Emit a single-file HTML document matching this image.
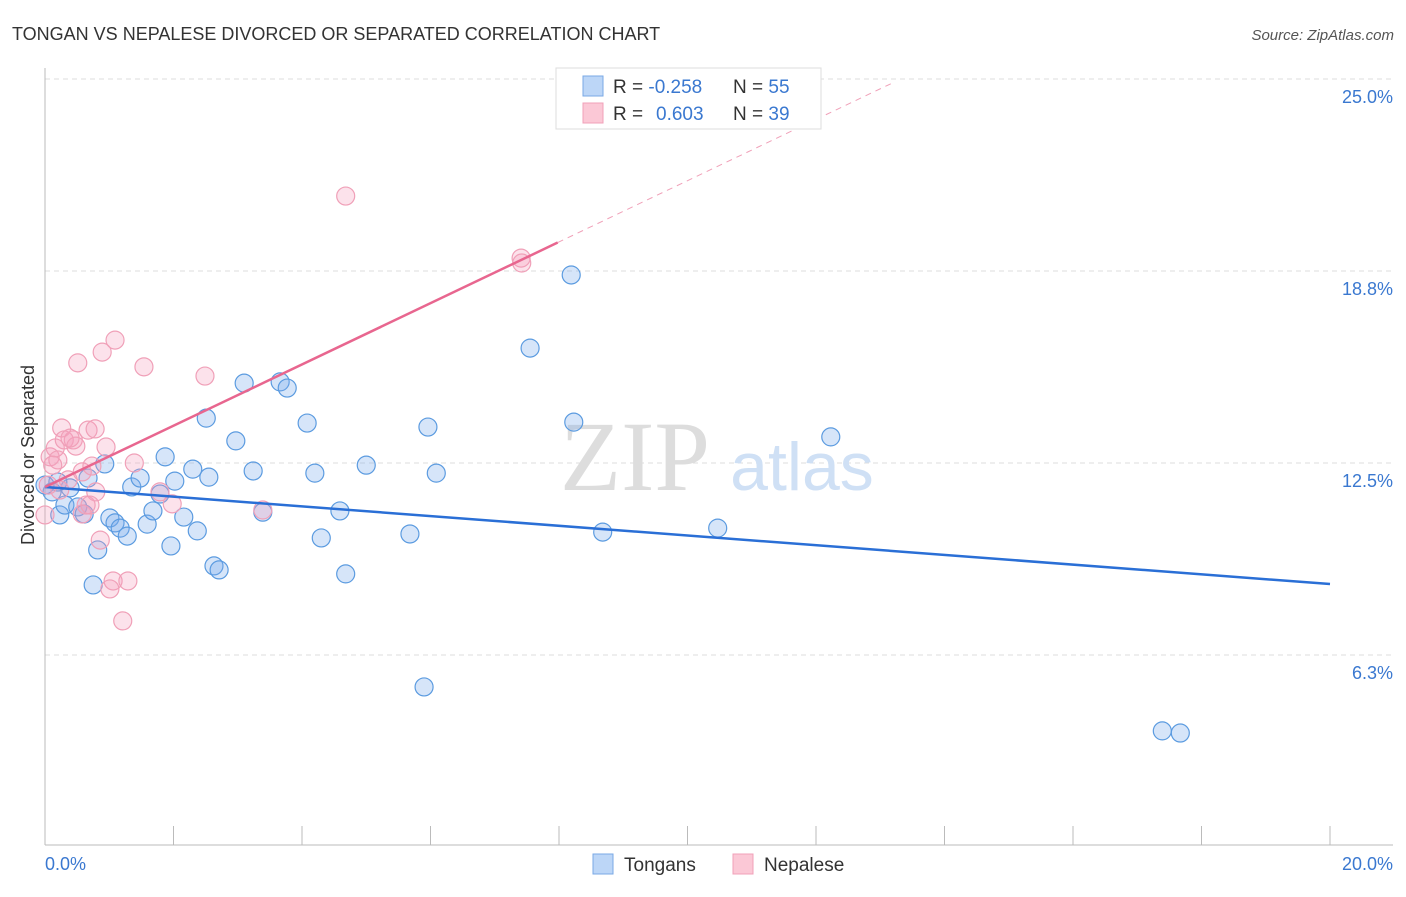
<!DOCTYPE html>
<html><head><meta charset="utf-8"><style>
body{margin:0;background:#fff;font-family:"Liberation Sans",sans-serif;}
</style></head><body>
<svg width="1406" height="892" xmlns="http://www.w3.org/2000/svg" font-family="Liberation Sans, sans-serif">
<text x="12" y="40" font-size="18" fill="#333">TONGAN VS NEPALESE DIVORCED OR SEPARATED CORRELATION CHART</text>
<text x="1394" y="40" font-size="15" fill="#555" font-style="italic" text-anchor="end">Source: ZipAtlas.com</text>
<g id="grid"></g>
<text x="635" y="490" font-size="100" font-family="Liberation Serif, serif" fill="#ddd" text-anchor="middle">ZIP</text>
<text x="802" y="490" font-size="68" fill="#cfe0f5" text-anchor="middle">atlas</text>
<g id="pts"></g>
<g id="lines"></g>
<text transform="translate(34,455) rotate(-90)" font-size="18" fill="#333" text-anchor="middle">Divorced or Separated</text>
<text x="45" y="870" font-size="18" fill="#3a78d0">0.0%</text>
<text x="1393" y="870" font-size="18" fill="#3a78d0" text-anchor="end">20.0%</text>
<g>
<rect x="556" y="68" width="265" height="61" fill="#fff" stroke="#ddd"/>
<rect x="583" y="76" width="20" height="20" fill="#bcd6f7" stroke="#7aa8e6"/>
<rect x="583" y="103" width="20" height="20" fill="#fbc8d6" stroke="#f0a0b8"/>
<text x="613" y="93" font-size="19" fill="#333">R = <tspan fill="#3a78d0">-0.258</tspan></text>
<text x="733" y="93" font-size="19" fill="#333">N = <tspan fill="#3a78d0">55</tspan></text>
<text x="613" y="120" font-size="19" fill="#333">R = <tspan fill="#3a78d0" x="656">0.603</tspan></text>
<text x="733" y="120" font-size="19" fill="#333">N = <tspan fill="#3a78d0">39</tspan></text>
</g>
<g>
<rect x="593" y="854" width="20" height="20" fill="#bcd6f7" stroke="#7aa8e6"/>
<text x="624" y="871" font-size="19" fill="#333">Tongans</text>
<rect x="733" y="854" width="20" height="20" fill="#fbc8d6" stroke="#f0a0b8"/>
<text x="764" y="871" font-size="19" fill="#333">Nepalese</text>
</g>
</svg>
<script>
const yTicks=[25,18.75,12.5,6.25];
const yTickLabels=["25.0%","18.8%","12.5%","6.3%"];
const xTicks=[2,4,6,8,10,12,14,16,18,20];
const blueX=[0.11,0.23,0.31,0.39,0.51,0.61,0.67,0.75,0.82,0.93,1.01,1.09,1.17,1.28,1.35,1.48,1.59,1.68,1.79,1.87,1.96,2.02,2.16,2.30,2.37,2.51,2.55,2.63,2.71,2.97,3.10,3.24,3.39,3.66,3.77,4.08,4.20,4.30,4.59,4.68,5.00,5.68,5.90,5.96,6.09,7.55,8.19,8.23,8.68,10.47,12.23,17.39,17.67,0.20,0.0];
const blueY=[11.56,10.81,11.13,11.69,11.07,10.84,12.01,8.53,9.67,12.47,10.71,10.55,10.38,10.12,11.72,12.01,10.51,10.94,11.49,12.70,9.80,11.91,10.74,12.30,10.29,13.96,12.04,9.15,9.02,13.22,15.10,12.24,10.90,15.14,14.94,13.80,12.17,10.06,10.94,8.89,12.43,10.19,5.21,13.67,12.17,16.24,18.62,13.83,10.25,10.38,13.35,3.78,3.71,11.88,11.78];
const pinkX=[0.0,0.08,0.16,0.23,0.26,0.30,0.36,0.44,0.48,0.51,0.58,0.58,0.64,0.67,0.73,0.78,0.79,0.86,0.89,0.95,1.06,1.09,1.21,1.29,1.39,1.54,1.79,1.98,2.49,3.39,4.68,7.41,7.42,0.05,0.20,0.39,0.70,1.01,0.12];
const pinkY=[10.81,12.70,12.99,11.62,13.64,13.25,11.95,13.25,13.05,15.76,12.21,10.84,11.13,13.57,12.40,13.61,11.56,9.99,16.11,13.02,8.66,16.50,7.36,8.66,12.50,15.63,11.56,11.17,15.33,10.97,21.19,19.17,19.01,11.78,12.60,13.31,11.13,8.40,12.43];
const blueTrend=[11.72,8.56];
const pinkTrend=[11.72,0.997];
const NS="http://www.w3.org/2000/svg";
const X=v=>45+v*64.25, Y=v=>847-v*30.72;
function mk(t,a,p){const e=document.createElementNS(NS,t);for(const k in a)e.setAttribute(k,a[k]);p.appendChild(e);return e;}
const g=document.getElementById('grid');
yTicks.forEach((t,i)=>{
 const l=mk('line',{x1:45,x2:1393,y1:Y(t),y2:Y(t),stroke:'#ddd','stroke-dasharray':'5,4'},g);
 
 
 const tx=mk('text',{x:1393,y:Y(t)+24,'font-size':18,fill:'#3a78d0','text-anchor':'end'},g);
 tx.textContent=yTickLabels[i];
 
 
});
mk('line',{x1:45,x2:45,y1:68,y2:845,stroke:'#bbb'},g);
mk('line',{x1:45,x2:1393,y1:845,y2:845,stroke:'#bbb'},g);
xTicks.forEach(t=>{
 const l=mk('line',{x1:X(t),x2:X(t),y1:826,y2:845,stroke:'#bbb'},g);
 
 
});
const p=document.getElementById('pts');
blueX.forEach((x,i)=>{
 const c=mk('circle',{cx:X(x),cy:Y(blueY[i]),r:9,fill:'rgba(120,170,235,0.3)',stroke:'#5b9be0','stroke-width':1.2},p);
 
 
});
pinkX.forEach((x,i)=>{
 const c=mk('circle',{cx:X(x),cy:Y(pinkY[i]),r:9,fill:'rgba(245,160,190,0.3)',stroke:'#f0a0b8','stroke-width':1.2},p);
 
 
});
const L=document.getElementById('lines');
const bl=mk('line',{x1:X(0),y1:Y(blueTrend[0]),x2:X(20),y2:Y(blueTrend[1]),stroke:'#2a6fd6','stroke-width':2.5},L);


const pl=mk('line',{x1:X(0),y1:Y(pinkTrend[0]),x2:X(7.98),y2:Y(pinkTrend[0]+pinkTrend[1]*7.98),stroke:'#e8668f','stroke-width':2.5},L);


const pd=mk('line',{x1:X(7.98),y1:Y(pinkTrend[0]+pinkTrend[1]*7.98),x2:X(13.2),y2:Y(pinkTrend[0]+pinkTrend[1]*13.2),stroke:'#f0a0b8','stroke-width':1,'stroke-dasharray':'6,5'},L);


</script>
</body></html>
